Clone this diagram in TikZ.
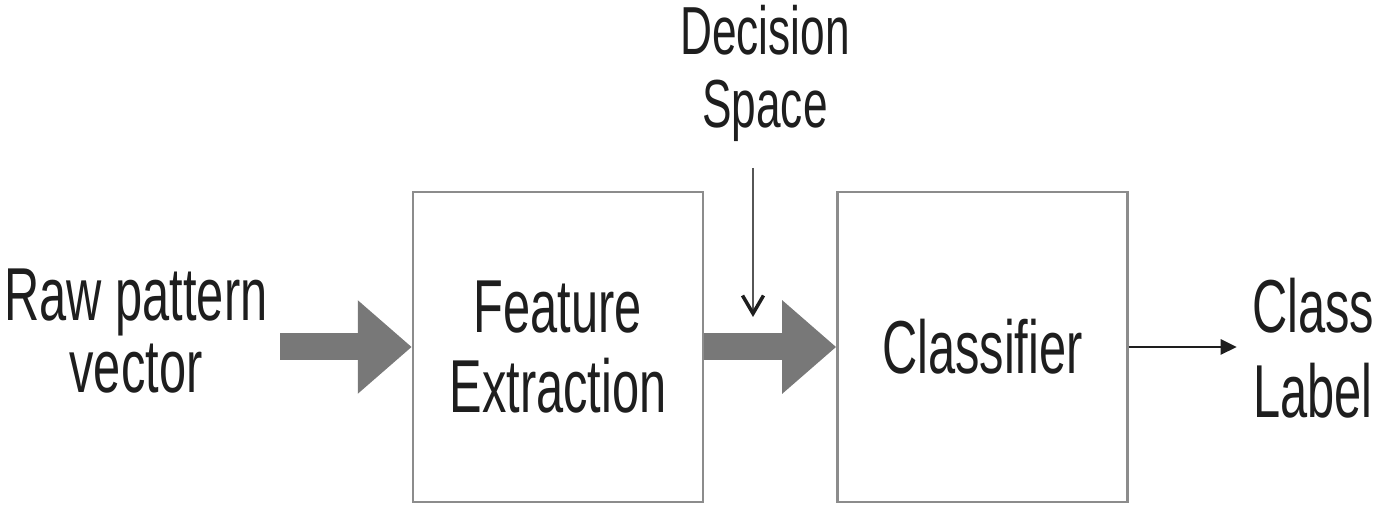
\documentclass[tikz,border=0pt]{standalone}
\usepackage{fontspec}
\setmainfont{Liberation Sans}[FakeStretch=0.65]
\usepackage{tikz}
\usetikzlibrary{positioning,arrows.meta,calc}
\usepackage{xcolor}
\definecolor{boxgray}{RGB}{140,140,140}
\definecolor{arrowgray}{RGB}{120,120,120}
\definecolor{inkblack}{RGB}{30,30,30}

\begin{document}
\begin{tikzpicture}[
    node distance=2.64cm,
    every node/.style={text=inkblack},
    textNode/.style={inner sep=0pt, align=center, anchor=base, font=\fontsize{42.7pt}{41.5pt}\selectfont},
    boxNode/.style={rectangle, draw=boxgray, line width=1.4pt, fill=white, minimum width=5.8cm, minimum height=6.2cm, align=center, font=\fontsize{42.7pt}{45.5pt}\selectfont},
    fatEdge/.style={draw=arrowgray, line width=0.54cm, -{Triangle[length=1.08cm, width=1.8cm]}},
    thinEdge/.style={draw=inkblack, line width=1.6pt, -{Triangle[length=0.32cm, width=0.3cm]}},
    downEdge/.style={draw=inkblack!75, line width=1.4pt, -{Straight Barb[length=0.36cm, width=0.42cm, line width=2pt, color=inkblack]}}
]
    \useasboundingbox (0,0) rectangle (27.86,10.6);

    \node [boxNode] (feat) at (11.16,3.66) {Feature\\Extraction};
    \node [boxNode, right=of feat] (clf) {Classifier};
    \node [textNode] (raw) at (2.72,2.74) {Raw pattern\\vector};
    \node [textNode, font=\fontsize{38.7pt}{41.5pt}\selectfont] (dec) at (15.3,8.05) {Decision\\Space};
    \node [textNode, font=\fontsize{42.7pt}{48.9pt}\selectfont] (lbl) at (26.26,2.24) {Class\\Label};
    \coordinate (dtip) at (15.06,4.26);

    \path [fatEdge, shorten <=0.25cm] (raw.east |- feat.west) -- (feat.west);
    \path [fatEdge] (feat.east) -- (clf.west);
    \path [downEdge, shorten <=0.52cm] (dec.south -| dtip) -- (dtip);
    \path [thinEdge, shorten >=0.3cm] (clf.east) -- (clf.east -| lbl.west);
\end{tikzpicture}
\end{document}
